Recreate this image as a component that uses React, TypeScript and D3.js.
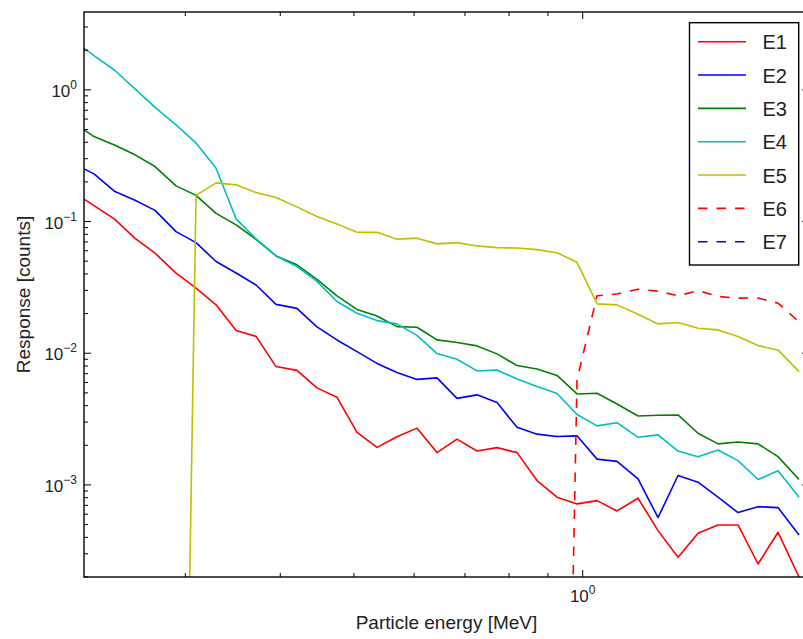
import React from "react";
import * as d3 from "d3";

// Particle energy [MeV] (x grid)
const energy = [
  0.2207, 0.2275, 0.2424, 0.2576, 0.2737, 0.2917, 0.3099, 0.3293, 0.3499, 0.3717,
  0.3949, 0.4207, 0.447, 0.4749, 0.5047, 0.5362, 0.5697, 0.6053, 0.6431, 0.6833,
  0.726, 0.7713, 0.8196, 0.8708, 0.9251, 0.9829, 1.0443, 1.1096, 1.1825, 1.2564,
  1.3349, 1.4183, 1.5068, 1.6009, 1.7011, 1.8072, 1.9259,
];

const e1 = [
  0.148, 0.132, 0.104, 0.0745, 0.0575, 0.0406, 0.0312, 0.0233, 0.01486, 0.01343,
  0.00792, 0.00741, 0.00546, 0.00464, 0.00251, 0.00193, 0.00232, 0.0027, 0.00176, 0.00223,
  0.00181, 0.00192, 0.00176, 0.00108, 0.000807, 0.000718, 0.00076, 0.000635, 0.000793, 0.00045,
  0.000282, 0.00043, 0.000497, 0.000497, 0.000251, 0.000437, 0.0002,
];

const e2 = [
  0.251, 0.23, 0.169, 0.145, 0.1216, 0.0839, 0.0692, 0.0497, 0.0407, 0.033,
  0.0235, 0.0219, 0.01585, 0.01262, 0.01029, 0.00837, 0.00715, 0.00633, 0.0065, 0.00454,
  0.00483, 0.00422, 0.00274, 0.00243, 0.00233, 0.00236, 0.00157, 0.00151, 0.00111, 0.000565,
  0.00118, 0.00105, 0.000807, 0.000617, 0.000684, 0.000673, 0.000417,
];

const e3 = [
  0.497, 0.442, 0.379, 0.321, 0.2616, 0.1866, 0.158, 0.1153, 0.0943, 0.0732,
  0.0548, 0.0469, 0.0364, 0.0273, 0.0215, 0.0192, 0.01593, 0.01576, 0.01263, 0.01205,
  0.01137, 0.00989, 0.00806, 0.0076, 0.00679, 0.00491, 0.00497, 0.00412, 0.00334, 0.00338,
  0.0034, 0.00247, 0.00205, 0.00212, 0.00205, 0.00164, 0.0011,
];

const e4 = [
  2.066, 1.822, 1.402, 1.018, 0.735, 0.542, 0.394, 0.254, 0.1048, 0.0739,
  0.0548, 0.0455, 0.0351, 0.0247, 0.02014, 0.0177, 0.0167, 0.01366, 0.00994, 0.00901,
  0.00734, 0.00747, 0.00638, 0.0056, 0.00495, 0.00343, 0.00281, 0.00297, 0.0023, 0.0024,
  0.00181, 0.00164, 0.00184, 0.00153, 0.0011, 0.00128, 0.000807,
];

const e5 = [
  null, null, null, null, null, 1e-10, 0.158, 0.1966, 0.19, 0.166,
  0.152, 0.1292, 0.1091, 0.096, 0.083, 0.0828, 0.0735, 0.0748, 0.0677, 0.0692,
  0.0653, 0.0634, 0.0629, 0.0612, 0.058, 0.049, 0.0237, 0.0233, 0.0198, 0.0167,
  0.0171, 0.0155, 0.01504, 0.01338, 0.01143, 0.0106, 0.00725,
];

const e6 = [
  null, null, null, null, null, null, null, null, null, null,
  null, null, null, null, null, null, null, null, null, null,
  null, null, null, null, 1e-10, 0.00627, 0.0273, 0.0282, 0.0306, 0.0296,
  0.0273, 0.0299, 0.027, 0.0262, 0.0263, 0.024, 0.0173,
];

const e7: (number | null)[] = [];

const seriesNames = ["E1", "E2", "E3", "E4", "E5", "E6", "E7"];
const seriesValues = [e1, e2, e3, e4, e5, e6, e7];
const seriesColors = ["#ff0000", "#0000ff", "#008000", "#00bfbf", "#bfbf00", "#ff0000", "#0000ff"];
const seriesDashed = [false, false, false, false, false, true, true];

const xDomain = [0.2207, 1.985];
const yDomain = [2e-4, 3.9];

const W = 803;
const H = 639;
const L = 84, R = 809, T = 12, B = 577;
const FONT = "'Liberation Sans', Arial, Helvetica, sans-serif";

export default function App() {
  const x = d3.scaleLog().domain(xDomain).range([L, R]);
  const y = d3.scaleLog().domain(yDomain).range([B, T]);

  const isMajor = (v: number) => Math.abs(Math.log10(v) - Math.round(Math.log10(v))) < 1e-6;
  const xTicks = x.ticks();
  const yTicks = y.ticks();

  const line = d3
    .line<[number, number | null]>()
    .defined((d) => d[1] != null && (d[1] as number) > 0)
    .x((d) => x(d[0]))
    .y((d) => y(d[1] as number));

  const MAJ = 7, MIN = 4;
  const legendX = 689.5, legendY = 22.7, legendW = 109.2, legendH = 242.3;

  return (
    <svg width={W} height={H} style={{ position: "absolute", left: 0, top: 0, background: "#fff" }}>
      <defs>
        <clipPath id="plot">
          <rect x={L} y={T} width={R - L} height={B - T} />
        </clipPath>
      </defs>
      <rect x={0} y={0} width={W} height={H} fill="#fff" />
      <g clipPath="url(#plot)">
        {seriesValues.map((vals, i) => {
          const pts = vals.map((v, j) => [energy[j], v] as [number, number | null]);
          const d = pts.length ? line(pts) : null;
          return d ? (
            <path
              key={seriesNames[i]}
              d={d}
              fill="none"
              stroke={seriesColors[i]}
              strokeWidth={1.6}
              strokeDasharray={seriesDashed[i] ? "9.5,9" : undefined}
              strokeLinejoin="round"
            />
          ) : null;
        })}
      </g>
      {/* ticks */}
      <g stroke="#000" strokeWidth={1}>
        {xTicks.map((t, i) => {
          const len = isMajor(t) ? MAJ : MIN;
          const px = x(t);
          return (
            <g key={"xt" + i}>
              <line x1={px} x2={px} y1={B} y2={B - len} />
              <line x1={px} x2={px} y1={T} y2={T + len} />
            </g>
          );
        })}
        {yTicks.map((t, i) => {
          const len = isMajor(t) ? MAJ : MIN;
          const py = y(t);
          return (
            <g key={"yt" + i}>
              <line x1={L} x2={L + len} y1={py} y2={py} />
              <line x1={R} x2={R - len} y1={py} y2={py} />
            </g>
          );
        })}
      </g>
      <rect x={L} y={T} width={R - L} height={B - T} fill="none" stroke="#000" strokeWidth={1.4} />
      {/* tick labels */}
      <g fontFamily={FONT} fill="#222">
        {yTicks.filter(isMajor).map((t, i) => {
          const e = Math.round(Math.log10(t));
          return (
            <text key={"yl" + i} x={L - 7} y={y(t) + 7} textAnchor="end" fontSize={17}>
              10<tspan dy={-8} fontSize={12}>{e < 0 ? "\u2212" + -e : String(e)}</tspan>
            </text>
          );
        })}
        {xTicks.filter(isMajor).map((t, i) => {
          const e = Math.round(Math.log10(t));
          return (
            <text key={"xl" + i} x={x(t)} y={602} textAnchor="middle" fontSize={17}>
              10<tspan dy={-8} fontSize={12}>{e < 0 ? "\u2212" + -e : String(e)}</tspan>
            </text>
          );
        })}
        <text x={(L + R) / 2} y={629} textAnchor="middle" fontSize={19}>
          Particle energy [MeV]
        </text>
        <text transform={`translate(30, ${(T + B) / 2}) rotate(-90)`} textAnchor="middle" fontSize={19}>
          Response [counts]
        </text>
      </g>
      {/* legend */}
      <g>
        <rect x={legendX} y={legendY} width={legendW} height={legendH} fill="#fff" stroke="#000" strokeWidth={1.4} />
        {seriesNames.map((n, i) => {
          const ly = 41.7 + i * 33.33;
          return (
            <g key={"lg" + n}>
              <line
                x1={698}
                x2={746}
                y1={ly}
                y2={ly}
                stroke={seriesColors[i]}
                strokeWidth={1.6}
                strokeDasharray={seriesDashed[i] ? "9.5,9" : undefined}
              />
              <text x={762.5} y={ly + 7.5} fontFamily={FONT} fontSize={20} fill="#222">
                {n}
              </text>
            </g>
          );
        })}
      </g>
    </svg>
  );
}
